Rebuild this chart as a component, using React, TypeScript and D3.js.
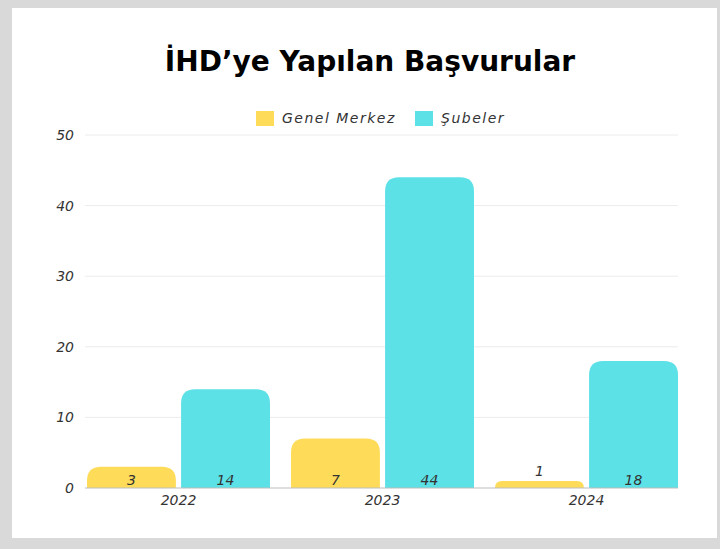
import React from "react";
import * as d3 from "d3";

const WIDTH = 720;
const HEIGHT = 549;
const Margin = { top: 135, right: 42, bottom: 61, left: 87 };

const years = ["2022", "2023", "2024"];
const seriesNames = ["Genel Merkez", "Şubeler"];
const genelMerkez = [3, 7, 1];
const subeler = [14, 44, 18];
const yTicks = [0, 10, 20, 30, 40, 50];
const colors = ["#fedc5a", "#5ce1e6"];

const FONT = "'DejaVu Sans', 'Open Sans', sans-serif";

// rounded-top bar path
const barPath = (x: number, y: number, w: number, h: number, r: number) => {
  const rr = Math.min(r, h, w / 2);
  return `M${x},${y + h}V${y + rr}Q${x},${y} ${x + rr},${y}H${x + w - rr}Q${x + w},${y} ${x + w},${y + rr}V${y + h}Z`;
};

const labelStyle = { fontFamily: FONT, fontStyle: "italic", fontSize: 14, fontWeight: 300 } as const;

const App = () => {
  const x0 = d3
    .scaleBand()
    .domain(years)
    .range([Margin.left, WIDTH - Margin.right])
    .paddingInner(0.103)
    .paddingOuter(0);
  const x1 = d3
    .scaleBand()
    .domain(seriesNames)
    .range([0, x0.bandwidth()])
    .paddingInner(0.055);
  const y = d3
    .scaleLinear()
    .domain([0, 50])
    .range([HEIGHT - Margin.bottom, Margin.top]);

  const rows = years.map((yr, i) => ({
    year: yr,
    values: [genelMerkez[i], subeler[i]],
  }));

  return (
    <svg width={WIDTH} height={HEIGHT} style={{ position: "absolute", left: 0, top: 0 }}>
      <rect x={0} y={0} width={WIDTH} height={HEIGHT} fill="#d9d9d9" />
      <rect x={12} y={8} width={705} height={530} fill="#ffffff" />

      <text
        x={370}
        y={71}
        textAnchor="middle"
        style={{ fontFamily: "'DejaVu Sans', sans-serif", fontWeight: 700, fontSize: 28 }}
        fill="#000"
      >
        İHD’ye Yapılan Başvurular
      </text>

      {/* legend */}
      <g style={{ ...labelStyle, letterSpacing: 1.5 }}>
        <rect x={256} y={111} width={18} height={15} fill={colors[0]} />
        <text x={282} y={123} fill="#333">{seriesNames[0]}</text>
        <rect x={415} y={111} width={18} height={15} fill={colors[1]} />
        <text x={441} y={123} fill="#333">{seriesNames[1]}</text>
      </g>

      {/* grid */}
      {yTicks.map((t) => (
        <g key={t}>
          {t > 0 && (
            <line x1={Margin.left - 2} x2={WIDTH - Margin.right} y1={y(t)} y2={y(t)} stroke="#ececec" />
          )}
          <text x={74} y={y(t) + 5} textAnchor="end" fill="#333" style={labelStyle}>
            {t}
          </text>
        </g>
      ))}

      {/* bars */}
      {rows.map((row) => (
        <g key={row.year} transform={`translate(${x0(row.year)},0)`}>
          {row.values.map((v, j) => {
            const bx = x1(seriesNames[j]) as number;
            const bw = x1.bandwidth();
            const by = y(v);
            const bh = y(0) - by;
            const inside = bh > 18;
            return (
              <g key={j}>
                <path d={barPath(bx, by, bw, bh, 14)} fill={colors[j]} />
                <text
                  x={bx + bw / 2}
                  y={inside ? y(0) - 3 : by - 5}
                  textAnchor="middle"
                  fill="#333"
                  style={labelStyle}
                >
                  {v}
                </text>
              </g>
            );
          })}
          <text x={x0.bandwidth() / 2} y={y(0) + 17} textAnchor="middle" fill="#333" style={labelStyle}>
            {row.year}
          </text>
        </g>
      ))}

      <line x1={Margin.left - 2} x2={WIDTH - Margin.right} y1={y(0)} y2={y(0)} stroke="#bdbdbd" />
    </svg>
  );
};

export default App;
